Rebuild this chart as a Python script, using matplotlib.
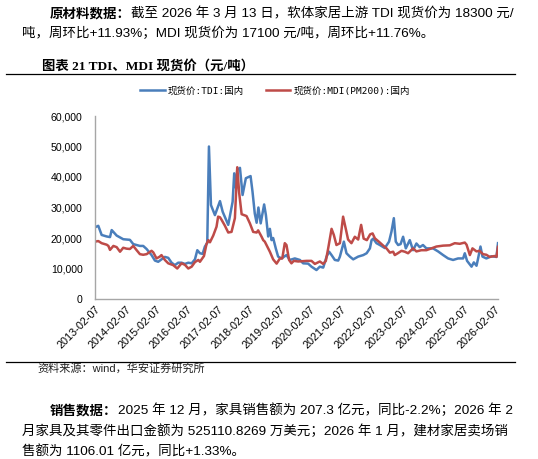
import matplotlib
matplotlib.use('Agg')
import matplotlib.pyplot as plt
from matplotlib.lines import Line2D
import pandas as pd

# ---------------- data ----------------
tdi_dates = [
    '2013-02-07', '2013-03-18', '2013-04-27', '2013-06-26', '2013-08-04', '2013-08-24', '2013-09-13',
    '2013-10-22', '2014-01-08', '2014-03-28', '2014-05-07', '2014-07-25', '2014-09-02', '2014-10-12',
    '2014-12-10', '2015-01-19', '2015-02-27', '2015-04-07', '2015-05-17', '2015-06-26', '2015-08-05',
    '2015-09-13', '2015-10-22', '2015-12-01', '2016-01-10', '2016-02-19', '2016-03-30', '2016-05-08',
    '2016-06-05', '2016-07-06', '2016-08-07', '2016-09-03', '2016-10-01', '2016-10-21', '2016-11-14',
    '2016-12-31', '2017-03-01', '2017-04-02', '2017-06-07', '2017-07-29', '2017-08-17', '2017-09-06',
    '2017-09-22', '2017-10-24', '2017-11-24', '2018-01-02', '2018-02-27', '2018-03-22', '2018-04-18',
    '2018-05-10', '2018-05-31', '2018-06-27', '2018-08-07', '2018-08-28', '2018-09-24', '2018-10-14',
    '2018-11-03', '2018-11-22', '2018-12-24', '2019-01-20', '2019-03-01', '2019-04-29', '2019-06-08',
    '2019-08-06', '2019-10-05', '2019-11-13', '2020-01-11', '2020-02-20', '2020-04-19', '2020-05-29',
    '2020-07-08', '2020-08-17', '2020-09-16', '2020-10-15', '2020-11-23', '2021-01-02', '2021-01-22',
    '2021-03-10', '2021-04-10', '2021-05-20', '2021-06-29', '2021-08-27', '2021-10-26', '2021-12-05',
    '2022-01-13', '2022-02-02', '2022-02-21', '2022-04-01', '2022-05-11', '2022-07-09', '2022-08-28',
    '2022-09-26', '2022-10-24', '2022-11-16', '2022-12-14', '2023-01-12', '2023-02-11', '2023-03-15',
    '2023-05-01', '2023-06-09', '2023-07-19', '2023-08-27', '2023-10-05', '2023-11-14', '2024-02-01',
    '2024-04-01', '2024-05-31', '2024-07-29', '2024-09-26', '2024-11-24', '2025-01-23', '2025-02-12',
    '2025-03-11', '2025-05-03', '2025-05-30', '2025-07-01', '2025-07-20', '2025-08-17', '2025-09-10',
    '2025-10-26', '2025-12-25', '2026-02-23', '2026-03-13',
]
tdi_values = [
    23500, 24000, 21000, 20500, 20300, 22600, 22000,
    20800, 19600, 19400, 18000, 17400, 17400, 16400,
    14400, 12600, 12200, 13000, 13800, 13500, 11900,
    11100, 11900, 11900, 11500, 11900, 11700, 13000,
    16000, 15000, 14800, 17200, 18400, 50000, 30800,
    27500, 32100, 28600, 24300, 31900, 41200, 36400,
    42300, 43000, 34100, 39600, 40300, 35200, 28000,
    25000, 30000, 24800, 31000, 27500, 20500, 23000,
    19300, 20000, 16500, 13900, 13300, 14400, 12800,
    13300, 12800, 11700, 11600, 10600, 9500, 10600,
    10300, 13900, 15500, 14400, 12800, 12600, 13900,
    18800, 15000, 13900, 13000, 13900, 14400, 15000,
    16600, 19300, 19800, 18300, 17700, 16700, 18800,
    22100, 26500, 18800, 17700, 18000, 20400, 16600,
    19300, 16000, 18200, 17000, 17700, 16600, 16600,
    15600, 14400, 13300, 12800, 13300, 13300, 15000,
    12500, 10600, 12000, 10900, 13300, 17200, 13900,
    13300, 14000, 13800, 18300,
]

mdi_dates = [
    '2013-02-07', '2013-03-18', '2013-04-27', '2013-06-26', '2013-07-16', '2013-08-04', '2013-09-13',
    '2013-10-22', '2013-12-01', '2014-01-08', '2014-02-17', '2014-03-28', '2014-05-07', '2014-06-16',
    '2014-07-25', '2014-09-02', '2014-10-12', '2014-12-10', '2014-12-30', '2015-02-07', '2015-03-18',
    '2015-04-07', '2015-05-17', '2015-06-26', '2015-08-24', '2015-10-11', '2015-12-01', '2016-01-10',
    '2016-02-19', '2016-03-30', '2016-05-08', '2016-06-17', '2016-07-06', '2016-08-23', '2016-09-22',
    '2016-10-13', '2016-11-02', '2016-12-11', '2017-01-19', '2017-02-07', '2017-03-01', '2017-03-19',
    '2017-04-27', '2017-06-07', '2017-07-16', '2017-08-25', '2017-09-22', '2017-10-15', '2017-11-13',
    '2018-01-10', '2018-02-19', '2018-03-30', '2018-05-10', '2018-05-28', '2018-07-08', '2018-07-27',
    '2018-08-15', '2018-09-04', '2018-10-14', '2018-11-22', '2019-01-02', '2019-02-10', '2019-03-10',
    '2019-04-09', '2019-04-29', '2019-05-30', '2019-06-27', '2019-07-25', '2019-09-15', '2019-12-23',
    '2020-02-20', '2020-03-31', '2020-05-29', '2020-07-08', '2020-08-08', '2020-09-05', '2020-10-15',
    '2020-11-11', '2020-12-12', '2021-01-22', '2021-03-01', '2021-04-05', '2021-04-29', '2021-06-08',
    '2021-07-18', '2021-08-27', '2021-10-01', '2021-10-31', '2021-12-08', '2022-01-16', '2022-02-14',
    '2022-03-13', '2022-05-11', '2022-06-20', '2022-07-29', '2022-09-07', '2022-10-16', '2022-11-04',
    '2022-12-10', '2023-01-23', '2023-03-03', '2023-04-11', '2023-06-09', '2023-07-19', '2023-09-16',
    '2023-11-14', '2024-01-13', '2024-03-12', '2024-05-31', '2024-08-18', '2024-10-16', '2024-12-14',
    '2025-02-12', '2025-03-05', '2025-04-13', '2025-05-14', '2025-07-01', '2025-08-07', '2025-09-16',
    '2025-10-26', '2025-12-04', '2026-02-02', '2026-02-23', '2026-03-13',
]
mdi_values = [
    18800, 19000, 18300, 17800, 17400, 16100, 17400,
    17000, 15500, 16800, 16500, 16400, 17400, 16000,
    14700, 14500, 14700, 15800, 15300, 13300, 13900,
    14400, 12800, 11700, 11100, 10000, 11700, 11200,
    10000, 10600, 12100, 12800, 12200, 14100, 18000,
    19300, 18600, 20800, 23700, 27000, 26800, 26000,
    24100, 21800, 22000, 26500, 43200, 34700, 27800,
    27200, 24800, 22000, 21800, 22500, 20400, 19300,
    18800, 17700, 15500, 13000, 11600, 13300, 13300,
    18300, 17700, 12800, 11700, 12500, 12300, 12500,
    12500, 11500, 12300, 11500, 12500, 16600, 23000,
    21000, 17700, 18300, 27000, 22600, 19500, 18300,
    20400, 19500, 24300, 19800, 19300, 21200, 21500,
    19900, 18500, 17500, 16600, 15200, 15500, 14400,
    15000, 15800, 15500, 15000, 16600, 15600, 16000,
    16000, 16600, 17200, 17500, 17600, 18300, 18100,
    18500, 17800, 14400, 16600, 15600, 15800, 14700,
    14500, 13800, 14100, 13800, 17100,
]

series_names = ['现货价:TDI:国内', '现货价:MDI(PM200):国内']
x_tick_labels = ['2013-02-07', '2014-02-07', '2015-02-07', '2016-02-07', '2017-02-07',
                 '2018-02-07', '2019-02-07', '2020-02-07', '2021-02-07', '2022-02-07',
                 '2023-02-07', '2024-02-07', '2025-02-07', '2026-02-07']
y_ticks = [0, 10000, 20000, 30000, 40000, 50000, 60000]

title_text = '图表 21 TDI、MDI 现货价（元/吨）'
source_text = '资料来源：wind，华安证券研究所'
top_lines = [
    [('原材料数据：', 'bold'), ('截至 2026 年 3 月 13 日，软体家居上游 TDI 现货价为 18300 元/', 'normal')],
    [('吨，周环比+11.93%；MDI 现货价为 17100 元/吨，周环比+11.76%。', 'normal')],
]
bottom_lines = [
    [('销售数据：', 'bold'), ('2025 年 12 月，家具销售额为 207.3 亿元，同比-2.2%；2026 年 2', 'normal')],
    [('月家具及其零件出口金额为 525110.8269 万美元；2026 年 1 月，建材家居卖场销', 'normal')],
    [('售额为 1106.01 亿元，同比+1.33%。', 'normal')],
]

# ---------------- figure ----------------
BODY = ['Liberation Sans', 'Noto Sans CJK SC']
W, H = 538, 459
fig = plt.figure(figsize=(W / 100, H / 100), dpi=100)
renderer = fig.canvas.get_renderer()


def fx(px):
    return px / W


def fy(py):
    return 1 - py / H


def rich_line(x_px, base_px, parts, fontsize):
    x = x_px
    for txt, weight in parts:
        t = fig.text(fx(x), fy(base_px), txt, fontsize=fontsize, fontweight=weight,
                     family=BODY, ha='left', va='baseline', color='black')
        bb = t.get_window_extent(renderer=renderer)
        x = bb.x1


# text above
rich_line(50, 17.3, top_lines[0], 9.7)
rich_line(22, 37.3, top_lines[1], 9.7)
fig.text(fx(42), fy(69.3), title_text, fontsize=9.6, fontweight='bold',
         family=['Liberation Serif', 'Noto Sans CJK SC'], ha='left', va='baseline')
fig.add_artist(Line2D([fx(6), fx(515)], [fy(74), fy(74)], transform=fig.transFigure,
                      color='black', lw=0.9))

# chart
ax = fig.add_axes([fx(95), fy(299), fx(498) - fx(95), fy(116) - fy(299)])
ax.plot(pd.to_datetime(tdi_dates), tdi_values, color='#4A7EBB', lw=1.8, label=series_names[0])
ax.plot(pd.to_datetime(mdi_dates), mdi_values, color='#BE4B48', lw=1.8, label=series_names[1])
ax.set_ylim(0, 60000)
ax.set_xlim(pd.Timestamp('2013-02-07'), pd.Timestamp('2026-03-13'))
ax.set_xticks(pd.to_datetime(x_tick_labels))
ax.set_xticklabels(x_tick_labels, rotation=45, ha='right', va='top', rotation_mode='anchor',
                   fontsize=7.8, family='Liberation Sans')
ax.set_yticks(y_ticks)
ax.set_yticklabels([f'{v:,}' for v in y_ticks], fontsize=7.6, family='Liberation Sans')
for s in ['top', 'right']:
    ax.spines[s].set_visible(False)
for s in ['left', 'bottom']:
    ax.spines[s].set_color('#a6a6a6')
    ax.spines[s].set_linewidth(1.0)
ax.tick_params(axis='y', length=0, pad=9)
ax.tick_params(axis='x', length=0, pad=4)

fig.legend(loc='center', bbox_to_anchor=(fx(275), fy(91)), ncol=2, frameon=False,
           prop={'family': ['DejaVu Sans Mono', 'Noto Sans CJK SC'], 'size': 6.8},
           handlelength=2.6, handletextpad=0.3, columnspacing=2.3)

# text below
fig.add_artist(Line2D([fx(6), fx(515)], [fy(362.3), fy(362.3)], transform=fig.transFigure,
                      color='black', lw=0.9))
fig.text(fx(37), fy(372), source_text, fontsize=8, family=BODY, ha='left', va='baseline',
         color='#222222')
rich_line(50, 414.3, bottom_lines[0], 9.7)
rich_line(22, 435, bottom_lines[1], 9.7)
rich_line(22, 455, bottom_lines[2], 9.7)

fig.savefig('out.png', dpi=100)
